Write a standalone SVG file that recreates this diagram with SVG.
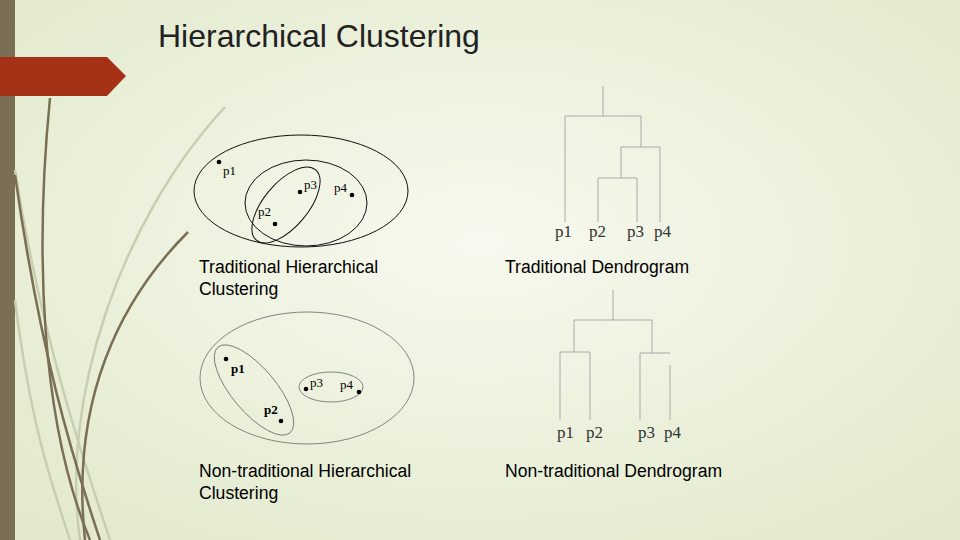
<svg xmlns="http://www.w3.org/2000/svg" width="960" height="540" viewBox="0 0 960 540">
<defs>
<radialGradient id="bg" cx="0.5" cy="0.45" r="0.7">
<stop offset="0" stop-color="#f7f9ee"/><stop offset="1" stop-color="#e2e9cc"/>
</radialGradient>
<style>
.lbl{font-family:"Liberation Sans",Arial,sans-serif;font-size:17.6px;fill:#000}
.pt{font-family:"Liberation Serif","Times New Roman",serif;font-size:13px;fill:#000}
.dl{font-family:"Liberation Serif","Times New Roman",serif;font-size:17px;fill:#333}
.e{fill:none;stroke:#111;stroke-width:1}
.e2{fill:none;stroke:#777;stroke-width:0.9}
.d{fill:none;stroke:#aaa;stroke-width:1}
.deco{fill:none;stroke:#7a6e55;stroke-width:2.5}
.decol{fill:none;stroke:#c9ceb2;stroke-width:2.5}
</style>
</defs>
<rect width="960" height="540" fill="url(#bg)"/>
<g id="decor">
<rect x="0" y="0" width="15" height="540" fill="#7a6e55"/>
<path d="M15 170 C40 330 80 450 110 540" class="decol"/>
<path d="M15 300 C30 420 50 480 70 540" class="decol"/>
<path d="M225 107 C120 220 60 400 80 540" class="decol"/>
<path d="M50 98 C35 250 40 420 90 540" class="deco"/>
<path d="M15 175 C40 350 70 450 100 540" class="deco"/>
<path d="M188 232 C120 300 70 400 85 540" class="deco"/>
<polygon points="0,57 107,57 126,76 107,96 0,96" fill="#a53216"/>
</g>
<text x="158" y="47" font-family="Liberation Sans,Arial,sans-serif" font-size="32" fill="#222">Hierarchical Clustering</text>
<g id="trad-clusters">
<ellipse class="e" cx="301" cy="191" rx="107" ry="56"/>
<ellipse class="e" cx="306" cy="203" rx="61" ry="43"/>
<ellipse class="e" cx="286" cy="205" rx="46" ry="22" transform="rotate(-50 286 205)"/>
<circle cx="219" cy="162" r="2.3"/><text class="pt" x="223" y="175">p1</text>
<circle cx="300" cy="192" r="2.3"/><text class="pt" x="304" y="189">p3</text>
<circle cx="352" cy="195" r="2.3"/><text class="pt" x="334" y="192">p4</text>
<circle cx="275" cy="224" r="2.3"/><text class="pt" x="258" y="216">p2</text>
</g>
<g id="trad-dendro">
<path class="d" d="M603 86V116M565 116H641M565 116V222M641 116V147M621 147H660M660 147V222M621 147V178M598 178H637M598 178V222M637 178V222"/>
<text class="dl" x="555" y="237">p1</text><text class="dl" x="589" y="237">p2</text><text class="dl" x="627" y="237">p3</text><text class="dl" x="654" y="237">p4</text>
</g>
<g id="nontrad-clusters">
<ellipse class="e2" cx="307" cy="378" rx="107" ry="66"/>
<ellipse class="e2" cx="254" cy="390" rx="56" ry="22" transform="rotate(50 254 390)"/>
<ellipse class="e2" cx="331" cy="387" rx="32" ry="15"/>
<circle cx="226" cy="359" r="2.3"/><text class="pt" x="231" y="373" font-weight="bold">p1</text>
<circle cx="281" cy="421" r="2.3"/><text class="pt" x="264" y="414" font-weight="bold">p2</text>
<circle cx="306" cy="389" r="2.3"/><text class="pt" x="310" y="387">p3</text>
<circle cx="359" cy="392" r="2.3"/><text class="pt" x="340" y="389">p4</text>
</g>
<g id="nontrad-dendro">
<path class="d" d="M613 290V320M574 320H652M574 320V352M560 352H590M560 352V420M590 352V420M652 320V353M640 353H670M640 353V420M670 365V420"/>
<text class="dl" x="557" y="438">p1</text><text class="dl" x="586" y="438">p2</text><text class="dl" x="638" y="438">p3</text><text class="dl" x="664" y="438">p4</text>
</g>
<g id="labels">
<text class="lbl" x="199" y="273">Traditional Hierarchical</text>
<text class="lbl" x="199" y="295">Clustering</text>
<text class="lbl" x="505" y="273">Traditional Dendrogram</text>
<text class="lbl" x="199" y="477">Non-traditional Hierarchical</text>
<text class="lbl" x="199" y="499">Clustering</text>
<text class="lbl" x="505" y="477">Non-traditional Dendrogram</text>
</g>
</svg>
